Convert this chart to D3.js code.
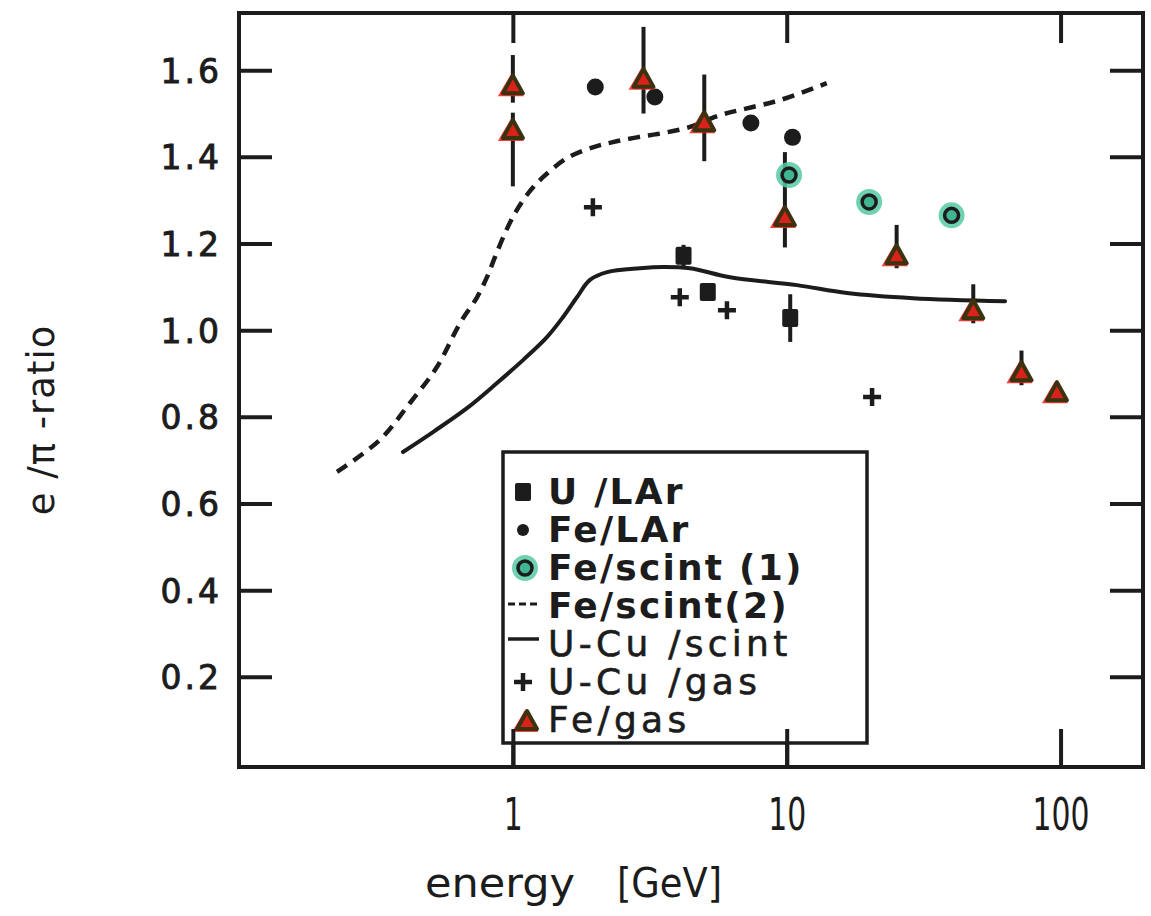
<!DOCTYPE html>
<html><head><meta charset="utf-8">
<script src="https://cdn.jsdelivr.net/npm/d3@7"></script>
<style>body{margin:0;background:#fff}svg{display:block}</style>
</head><body><svg id="c" width="1151" height="916"></svg>
<script>
// ---------- data ----------
const yTickValues=[0.2,0.4,0.6,0.8,1.0,1.2,1.4,1.6];
const xTickValues=[1,10,100];
const xTickLabels=["1","10","100"];
// U / LAr (filled squares)
const uLArE=[4.2,5.15,10.3];
const uLArV=[1.172,1.088,1.028];
const uLArErr=[0.025,0,0.055];
// Fe / LAr (filled dots)
const feLArE=[2.0,3.3,7.4,10.5];
const feLArV=[1.561,1.538,1.478,1.445];
// Fe / scint (1) (green open circles)
const feScint1E=[10.2,20,40];
const feScint1V=[1.358,1.296,1.265];
// Fe / scint (2) dashed curve
const feScint2E=[0.228,0.327,0.421,0.528,0.641,0.740,0.805,0.861,0.936,1.018,1.125,1.288,1.576,1.96,2.32,2.84,3.53,4.43,5.70,7.16,9.45,14.0];
const feScint2V=[0.673,0.747,0.832,0.915,1.016,1.076,1.123,1.169,1.224,1.270,1.312,1.353,1.397,1.422,1.434,1.445,1.455,1.469,1.496,1.512,1.531,1.570];
// U-Cu / scint solid curve
const uCuScintE=[0.397,0.511,0.680,0.875,1.089,1.332,1.524,1.714,1.912,2.21,2.91,3.53,4.43,6.21,10.9,16.6,28.9,62.7];
const uCuScintV=[0.719,0.765,0.820,0.878,0.931,0.984,1.030,1.076,1.116,1.134,1.143,1.146,1.143,1.122,1.104,1.086,1.074,1.067];
// U-Cu / gas (plus signs)
const uCuGasE=[1.96,4.07,6.05,20.5];
const uCuGasV=[1.284,1.076,1.046,0.846];
// Fe / gas (triangles)
const feGasE=[1.0,1.0,3.0,5.0,9.85,25.2,48,72,97];
const feGasV=[1.565,1.462,1.58,1.48,1.261,1.173,1.046,0.903,0.857];
const feGasErrUp=[0.07,0.04,0.12,0.11,0.15,0.07,0.06,0.05,0];
const feGasErrDn=[0.04,0.13,0.08,0.09,0.07,0.03,0.03,0.03,0];
// legend
const legendLabels=["U /LAr","Fe/LAr","Fe/scint (1)","Fe/scint(2)","U-Cu /scint","U-Cu /gas","Fe/gas"];
const legendKinds=["square","dot","ring","dash","line","plus","triangle"];
const legendWeights=["bold","bold","bold","bold","normal","normal","normal"];
// axis titles
const xTitleWords=["energy","[GeV]"];
const yTitle="e /π -ratio";

// ---------- chart ----------
const ink="#1c1c1c";
const svg=d3.select("#c");
const L=239,R=1143,T=13,B=767;
const x=d3.scaleLog().domain([0.1,200]).range([L,R]);
const y=d3.scaleLinear().domain([-0.008,1.732]).range([B,T]);

const font="'DejaVu Sans',sans-serif";

function styleAxis(g){
  g.select(".domain").remove();
  g.selectAll(".tick line").attr("stroke",ink).attr("stroke-width",4);
}
// left axis
svg.append("g").attr("transform",`translate(${L},0)`)
  .call(d3.axisLeft(y).tickValues(yTickValues).tickSizeInner(-33).tickSizeOuter(0).tickPadding(17).tickFormat(d3.format(".1f")))
  .call(styleAxis)
  .call(g=>g.selectAll("text").attr("font-family",font).attr("font-size",33).attr("letter-spacing",3)
     .attr("stroke",ink).attr("stroke-width",0.9).attr("fill",ink).attr("dy","0.36em"));
// right axis
svg.append("g").attr("transform",`translate(${R},0)`)
  .call(d3.axisRight(y).tickValues(yTickValues).tickSizeInner(-33).tickSizeOuter(0).tickFormat(""))
  .call(styleAxis);
// bottom axis
svg.append("g").attr("transform",`translate(0,${B})`)
  .call(d3.axisBottom(x).tickValues(xTickValues).tickSizeInner(-38).tickSizeOuter(0).tickPadding(32).tickFormat((d,i)=>xTickLabels[i]))
  .call(styleAxis)
  .call(g=>g.selectAll("text").attr("font-family",font).attr("font-size",44).attr("fill",ink)
     .attr("textLength",function(){return this.textContent.length*19;}).attr("lengthAdjust","spacingAndGlyphs"));
// top axis
svg.append("g").attr("transform",`translate(0,${T})`)
  .call(d3.axisTop(x).tickValues(xTickValues).tickSizeInner(-30).tickSizeOuter(0).tickFormat(""))
  .call(styleAxis);
// frame
svg.append("rect").attr("x",L).attr("y",T).attr("width",R-L).attr("height",B-T)
  .attr("fill","none").attr("stroke",ink).attr("stroke-width",4);

// axis titles
svg.append("text").attr("x",425).attr("y",897).attr("font-family",font).attr("font-size",40).attr("fill",ink)
  .attr("textLength",150).attr("lengthAdjust","spacingAndGlyphs").text(xTitleWords[0]);
svg.append("text").attr("x",617).attr("y",897).attr("font-family",font).attr("font-size",40).attr("fill",ink)
  .attr("textLength",105).attr("lengthAdjust","spacingAndGlyphs").text(xTitleWords[1]);
svg.append("text").attr("transform","translate(54,420) rotate(-90)").attr("text-anchor","middle")
  .attr("font-family",font).attr("font-size",37).attr("letter-spacing",1).attr("fill",ink)
  .style("white-space","pre").text(yTitle);

// curves
const line=d3.line().x(d=>x(d[0])).y(d=>y(d[1])).curve(d3.curveCatmullRom.alpha(0.5));
svg.append("path").datum(d3.zip(feScint2E,feScint2V)).attr("d",line)
  .attr("fill","none").attr("stroke",ink).attr("stroke-width",4.5).attr("stroke-dasharray","12 8");
svg.append("path").datum(d3.zip(uCuScintE,uCuScintV)).attr("d",line)
  .attr("fill","none").attr("stroke",ink).attr("stroke-width",4).attr("stroke-linecap","round");

// marker painters
function square(g,cx,cy){g.append("rect").attr("x",cx-8).attr("y",cy-9).attr("width",16).attr("height",18).attr("rx",2).attr("fill",ink);}
function dot(g,cx,cy){g.append("circle").attr("cx",cx).attr("cy",cy).attr("r",8.5).attr("fill",ink);}
function ring(g,cx,cy){
  g.append("circle").attr("cx",cx).attr("cy",cy).attr("r",13).attr("fill","#55c9a4").attr("opacity",0.85);
  g.append("circle").attr("cx",cx).attr("cy",cy).attr("r",7).attr("fill","#3fb592").attr("stroke",ink).attr("stroke-width",3.5);
}
function plus(g,cx,cy){
  g.append("path").attr("d",`M${cx-9},${cy}H${cx+9}M${cx},${cy-9}V${cy+9}`).attr("stroke",ink).attr("stroke-width",4.5);
}
function triangle(g,cx,cy){
  g.append("path").attr("d",`M${cx-13},${cy+10}L${cx},${cy-12}L${cx+13},${cy+10}Z`).attr("fill","#ff1a1a").attr("opacity",0.85)
    .attr("transform","translate(-2,1)");
  g.append("path").attr("d",`M${cx-10},${cy+8}L${cx},${cy-10}L${cx+10},${cy+8}Z`).attr("fill","#d8221a").attr("stroke","#3b3210").attr("stroke-width",4).attr("stroke-linejoin","round");
}

// error bars
const eg=svg.append("g").attr("stroke",ink).attr("stroke-width",4);
eg.selectAll("line.fg").data(d3.range(feGasE.length).filter(i=>feGasErrUp[i]+feGasErrDn[i]>0)).join("line")
  .attr("x1",i=>x(feGasE[i])).attr("x2",i=>x(feGasE[i]))
  .attr("y1",i=>y(feGasV[i]+feGasErrUp[i])).attr("y2",i=>y(feGasV[i]-feGasErrDn[i]));
eg.selectAll("line.ul").data(d3.range(uLArE.length).filter(i=>uLArErr[i]>0)).join("line")
  .attr("x1",i=>x(uLArE[i])).attr("x2",i=>x(uLArE[i]))
  .attr("y1",i=>y(uLArV[i]+uLArErr[i])).attr("y2",i=>y(uLArV[i]-uLArErr[i]));

const mg=svg.append("g");
uLArE.forEach((e,i)=>square(mg,x(e),y(uLArV[i])));
feLArE.forEach((e,i)=>dot(mg,x(e),y(feLArV[i])));
feScint1E.forEach((e,i)=>ring(mg,x(e),y(feScint1V[i])));
uCuGasE.forEach((e,i)=>plus(mg,x(e),y(uCuGasV[i])));
feGasE.forEach((e,i)=>triangle(mg,x(e),y(feGasV[i])));

// legend
const lg=svg.append("g");
lg.append("rect").attr("x",503).attr("y",452).attr("width",364).attr("height",291)
  .attr("fill","#fff").attr("stroke",ink).attr("stroke-width",3.5);
legendLabels.forEach((lab,i)=>{
  const by=504+i*38, my=by-12;
  const k=legendKinds[i];
  if(k==="square") square(lg,523,my);
  else if(k==="dot") {lg.append("circle").attr("cx",523).attr("cy",my).attr("r",6).attr("fill",ink);}
  else if(k==="ring") ring(lg,525,my);
  else if(k==="plus") plus(lg,523,my);
  else if(k==="triangle") triangle(lg,527,my+1);
  else if(k==="dash") lg.append("line").attr("x1",508).attr("x2",539).attr("y1",my-2).attr("y2",my-2).attr("stroke",ink).attr("stroke-width",3).attr("stroke-dasharray","7 4");
  else if(k==="line") lg.append("line").attr("x1",508).attr("x2",539).attr("y1",my-5).attr("y2",my-5).attr("stroke",ink).attr("stroke-width",3.5);
  const bold=legendWeights[i]==="bold";
  lg.append("text").attr("x",548).attr("y",by).attr("font-family",font).attr("font-size",36)
    .attr("font-weight",legendWeights[i]).attr("letter-spacing",bold?2.2:4.3)
    .attr("stroke",bold?"none":ink).attr("stroke-width",0.6)
    .attr("fill",ink).style("white-space","pre").text(lab);
});
// ticks crossing the legend bottom
svg.append("g").attr("transform",`translate(0,${B})`)
  .call(d3.axisBottom(x).tickValues([1,10]).tickSizeInner(-38).tickSizeOuter(0).tickFormat(""))
  .call(styleAxis);
</script></body></html>
